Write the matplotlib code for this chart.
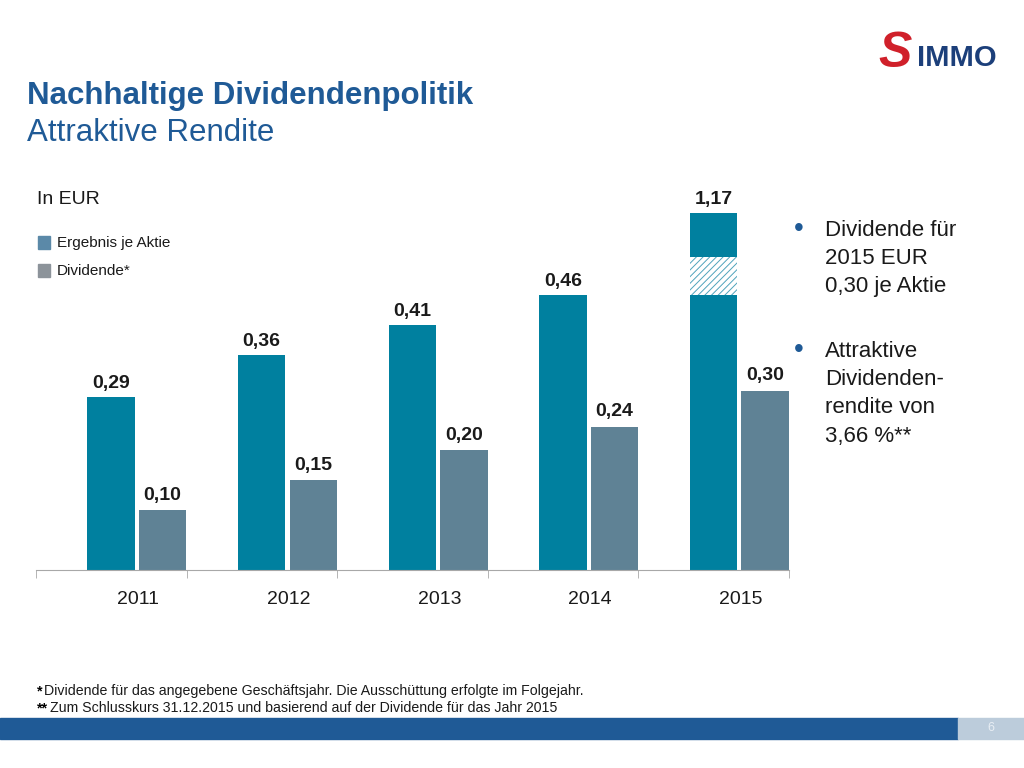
import numpy as np
import matplotlib
matplotlib.use("Agg")
import matplotlib.pyplot as plt
from matplotlib.patches import Rectangle

plt.rcParams['font.family'] = ['Liberation Sans', 'DejaVu Sans']
plt.rcParams['hatch.linewidth'] = 0.7

# Daten (data)
years = ['2011', '2012', '2013', '2014', '2015']
eps = [0.29, 0.36, 0.41, 0.46, 1.17]          # Ergebnis je Aktie
dividend = [0.10, 0.15, 0.20, 0.24, 0.30]     # Dividende*
eps_labels = ['0,29', '0,36', '0,41', '0,46', '1,17']
div_labels = ['0,10', '0,15', '0,20', '0,24', '0,30']

# 2015 bar is drawn with an axis break (hatched segment)
break_at = 0.46
break_len = 0.063
top_len = 0.074

teal = '#00809F'
greyblue = '#5F8295'
dark_blue = '#1F5A96'

fig = plt.figure(figsize=(10.24, 7.68), dpi=100)

ax = fig.add_axes([36 / 1024, 1 - 570 / 768, 753 / 1024, 385 / 768])
x = np.arange(len(years))
w = 0.315
off = 0.171

for i in range(len(years)):
    xe = x[i] - off
    xd = x[i] + off
    if eps[i] > break_at + break_len + top_len:
        ax.bar(xe, break_at, w, color=teal)
        ax.bar(xe, break_len, w, bottom=break_at, color='white', edgecolor='#4FA3BC',
               hatch='/////', linewidth=0)
        ax.bar(xe, top_len, w, bottom=break_at + break_len, color=teal)
        top_e = break_at + break_len + top_len
    else:
        ax.bar(xe, eps[i], w, color=teal)
        top_e = eps[i]
    ax.bar(xd, dividend[i], w, color=greyblue)
    ax.text(xe, top_e + 0.022, eps_labels[i], ha='center', va='center',
            fontsize=14, fontweight='bold', color='#1a1a1a')
    ax.text(xd, dividend[i] + 0.025, div_labels[i], ha='center', va='center',
            fontsize=14, fontweight='bold', color='#1a1a1a')

ax.set_xlim(-0.67, 4.325)
ax.set_ylim(0, 0.644)
for s in ['top', 'right', 'left']:
    ax.spines[s].set_visible(False)
ax.spines['bottom'].set_color('#a8a8a8')
ax.set_yticks([])
ax.set_xticks(x + 0.01)
ax.set_xticklabels(years, fontsize=14, color='#1a1a1a')
ax.tick_params(axis='x', which='major', length=0, pad=15)
ax.set_xticks(np.append(x + 0.33, -0.67), minor=True)
ax.tick_params(axis='x', which='minor', length=6, color='#a8a8a8', direction='out')

# Titel (title)
fig.text(27 / 1024, 1 - 96 / 768, 'Nachhaltige Dividendenpolitik', fontsize=22.5,
         fontweight='bold', color=dark_blue, va='center')
fig.text(27 / 1024, 1 - 133 / 768, 'Attraktive Rendite', fontsize=22.5,
         color=dark_blue, va='center')

# Logo
fig.text(878 / 1024, 1 - 54 / 768, 'S', fontsize=36, fontweight='bold', fontstyle='italic',
         color='#D0202A', va='center')
fig.text(917 / 1024, 1 - 58 / 768, 'IMMO', fontsize=21, fontweight='bold',
         color='#1C3F7A', va='center')

# Einheit und Legende (unit and legend)
fig.text(37 / 1024, 1 - 200 / 768, 'In EUR', fontsize=14, color='#1a1a1a', va='center')
fig.patches.append(Rectangle((38 / 1024, 1 - 249 / 768), 12 / 1024, 13 / 768,
                             transform=fig.transFigure, color='#5B89A8'))
fig.text(57 / 1024, 1 - 243 / 768, 'Ergebnis je Aktie', fontsize=11, color='#1a1a1a', va='center')
fig.patches.append(Rectangle((38 / 1024, 1 - 277 / 768), 12 / 1024, 13 / 768,
                             transform=fig.transFigure, color='#8C939A'))
fig.text(57 / 1024, 1 - 271 / 768, 'Dividende*', fontsize=11, color='#1a1a1a', va='center')

# Aufzählung rechts (bullets)
fig.text(794 / 1024, 1 - 229 / 768, '•', fontsize=20, color=dark_blue, va='center')
fig.text(825 / 1024, 1 - 220 / 768, 'Dividende für\n2015 EUR\n0,30 je Aktie', fontsize=16,
         color='#1a1a1a', va='top', linespacing=1.45)
fig.text(794 / 1024, 1 - 350 / 768, '•', fontsize=20, color=dark_blue, va='center')
fig.text(825 / 1024, 1 - 341 / 768, 'Attraktive\nDividenden-\nrendite von\n3,66 %**', fontsize=16,
         color='#1a1a1a', va='top', linespacing=1.45)

# Fußnoten (footnotes)
fig.text(37 / 1024, 1 - 691 / 768, '*', fontsize=10.2, fontweight='bold', va='center')
fig.text(44 / 1024, 1 - 691 / 768,
         'Dividende für das angegebene Geschäftsjahr. Die Ausschüttung erfolgte im Folgejahr.',
         fontsize=10.2, color='#1a1a1a', va='center')
fig.text(37 / 1024, 1 - 708 / 768, '**', fontsize=10.2, fontweight='bold', va='center')
fig.text(50 / 1024, 1 - 708 / 768,
         'Zum Schlusskurs 31.12.2015 und basierend auf der Dividende für das Jahr 2015',
         fontsize=10.2, color='#1a1a1a', va='center')

# Fußleiste (footer band)
fig.patches.append(Rectangle((0, 1 - 739 / 768), 958 / 1024, 21 / 768,
                             transform=fig.transFigure, color='#1F5A96'))
fig.patches.append(Rectangle((958 / 1024, 1 - 739 / 768), 66 / 1024, 21 / 768,
                             transform=fig.transFigure, color='#BCCCDB'))
fig.text(991 / 1024, 1 - 728 / 768, '6', fontsize=9, color='#E8EEF4', ha='center', va='center')

fig.savefig('out.png', dpi=100)
